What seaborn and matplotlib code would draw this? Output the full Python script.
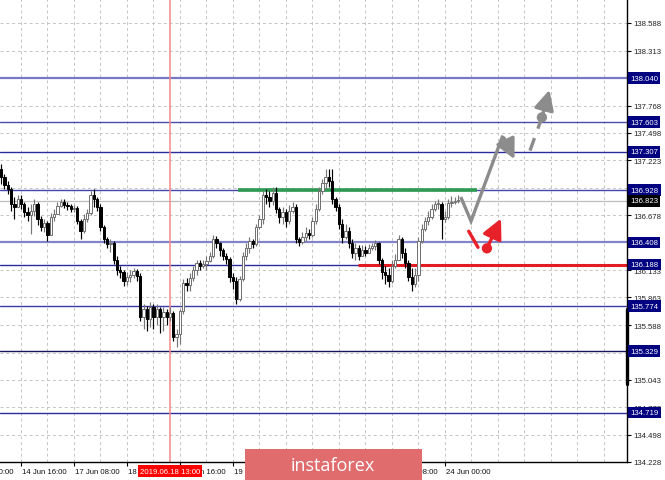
import numpy as np
import pandas as pd
import matplotlib.pyplot as plt
import matplotlib.transforms as mtransforms
from matplotlib.patches import Rectangle
import seaborn as sns

# H1 candles from 14 Jun 10:00 to 24 Jun 04:00
first_open = 137.14
close = [137.06, 136.98, 136.94, 136.79, 136.76, 136.84, 136.79, 136.71, 136.68, 136.72,
         136.79, 136.64, 136.56, 136.60, 136.48, 136.66, 136.69, 136.77, 136.81, 136.78,
         136.77, 136.74, 136.75, 136.62, 136.52, 136.64, 136.70, 136.88, 136.84, 136.76,
         136.56, 136.44, 136.39, 136.40, 136.23, 136.13, 136.11, 136.03, 136.07, 136.09,
         136.12, 136.08, 135.67, 135.75, 135.65, 135.77, 135.67, 135.75, 135.67, 135.72,
         135.67, 135.71, 135.47, 135.50, 135.73, 136.01, 135.99, 136.06, 136.13, 136.20,
         136.17, 136.19, 136.22, 136.27, 136.44, 136.40, 136.33, 136.27, 136.24, 136.07,
         136.03, 135.85, 136.05, 136.27, 136.35, 136.42, 136.39, 136.56, 136.64, 136.88,
         136.86, 136.82, 136.90, 136.74, 136.66, 136.71, 136.62, 136.72, 136.76, 136.44,
         136.41, 136.46, 136.50, 136.48, 136.62, 136.74, 136.92, 137.00, 137.06, 137.02,
         136.84, 136.76, 136.59, 136.46, 136.52, 136.40, 136.30, 136.35, 136.27, 136.33,
         136.30, 136.35, 136.37, 136.40, 136.23, 136.11, 136.09, 136.03, 136.17, 136.23,
         136.44, 136.30, 136.20, 136.07, 136.00, 136.09, 136.42, 136.54, 136.62, 136.66,
         136.74, 136.79, 136.79, 136.64, 136.66, 136.80, 136.81, 136.82, 136.823]
high = [137.19, 137.09, 137.02, 136.96, 136.86, 136.88, 136.88, 136.81, 136.76, 136.79,
        136.84, 136.81, 136.67, 136.64, 136.62, 136.70, 136.74, 136.81, 136.84, 136.84,
        136.81, 136.79, 136.78, 136.77, 136.64, 136.69, 136.74, 136.92, 136.94, 136.86,
        136.79, 136.58, 136.46, 136.44, 136.42, 136.27, 136.17, 136.13, 136.11, 136.13,
        136.15, 136.14, 136.10, 135.80, 135.78, 135.82, 135.80, 135.80, 135.77, 135.77,
        135.75, 135.77, 135.73, 135.55, 135.75, 136.05, 136.06, 136.10, 136.17, 136.23,
        136.23, 136.23, 136.27, 136.31, 136.48, 136.47, 136.41, 136.35, 136.30, 136.26,
        136.10, 136.07, 136.08, 136.31, 136.40, 136.46, 136.44, 136.59, 136.68, 136.92,
        136.94, 136.92, 136.96, 136.96, 136.76, 136.76, 136.74, 136.78, 136.81, 136.79,
        136.46, 136.51, 136.56, 136.54, 136.66, 136.79, 136.96, 137.04, 137.14, 137.14,
        137.14, 136.86, 136.79, 136.64, 136.59, 136.56, 136.44, 136.40, 136.38, 136.38,
        136.37, 136.39, 136.40, 136.43, 136.41, 136.25, 136.17, 136.15, 136.23, 136.29,
        136.48, 136.46, 136.35, 136.23, 136.15, 136.15, 136.46, 136.59, 136.66, 136.72,
        136.79, 136.82, 136.84, 136.81, 136.72, 136.84, 136.87, 136.86, 136.88]
low = [136.99, 136.94, 136.89, 136.72, 136.64, 136.76, 136.74, 136.66, 136.62, 136.49,
       136.67, 136.58, 136.52, 136.51, 136.42, 136.48, 136.62, 136.69, 136.76, 136.75,
       136.73, 136.71, 136.71, 136.59, 136.44, 136.50, 136.61, 136.68, 136.76, 136.72,
       136.52, 136.40, 136.35, 136.31, 136.19, 136.09, 136.06, 135.98, 135.99, 136.02,
       136.06, 136.03, 135.63, 135.55, 135.53, 135.57, 135.55, 135.59, 135.51, 135.53,
       135.59, 135.63, 135.43, 135.37, 135.40, 135.70, 135.93, 135.93, 136.03, 136.09,
       136.13, 136.15, 136.13, 136.21, 136.25, 136.35, 136.27, 136.23, 136.19, 136.02,
       135.95, 135.80, 135.83, 136.03, 136.23, 136.30, 136.35, 136.37, 136.54, 136.59,
       136.79, 136.76, 136.78, 136.70, 136.60, 136.59, 136.56, 136.59, 136.70, 136.40,
       136.37, 136.39, 136.42, 136.44, 136.46, 136.59, 136.72, 136.89, 136.94, 136.96,
       136.79, 136.72, 136.54, 136.40, 136.44, 136.35, 136.25, 136.23, 136.23, 136.27,
       136.27, 136.30, 136.33, 136.33, 136.19, 136.05, 136.00, 135.97, 136.01, 136.15,
       136.23, 136.25, 136.15, 136.03, 135.93, 135.97, 136.03, 136.40, 136.52, 136.58,
       136.64, 136.72, 136.74, 136.44, 136.61, 136.64, 136.76, 136.79, 136.80]

price_ticks = [138.588, 138.313, 137.768, 137.498, 137.223, 136.678,
               136.133, 135.863, 135.588, 135.043, 134.773, 134.498, 134.228]
grid_prices = [138.588, 138.313, 138.040, 137.768, 137.498, 137.223, 136.948, 136.678, 136.408,
               136.133, 135.863, 135.588, 135.313, 135.043, 134.773, 134.498, 134.228]
levels = [138.040, 137.603, 137.307, 136.928, 136.408, 136.188, 135.774, 135.329, 134.719]
level_colors = ['#7777C4', '#4B4BB0', '#2B2B9C', '#4545AE', '#8383CA', '#2B2B9C',
                '#3A3AA8', '#16165E', '#2B2B9C']
last_price = 136.823

time_labels = ['14 Jun 00:00', '14 Jun 16:00', '17 Jun 08:00', '18 Jun 00:00', '18 Jun 16:00',
               '19 Jun 08:00', '20 Jun 00:00', '20 Jun 16:00', '21 Jun 08:00', '24 Jun 00:00']
time_label_bars = [-10, 6, 22, 38, 54, 70, 86, 102, 118, 134]
cursor_bar = 51
cursor_label = '2019.06.18 13:00'

resistance, resistance_span = 136.928, (71.5, 143.7)
support, support_span = 136.188, (107.7, 189.0)

# hand-drawn forecast arrows (bar index, price)
gray_path_x = [138.8, 141.9, 151.5, 155.4]
gray_path_y = [136.86, 136.62, 137.47, 137.21]
gray_dash_x = [159.7, 163.3]
gray_dash_y = [137.32, 137.65]
gray_arrow_x = [163.3, 165.8]
gray_arrow_y = [137.65, 137.95]
red_stroke_x = [141.2, 144.0]
red_stroke_y = [136.52, 136.36]
red_arrow_x = [146.7, 151.3]
red_arrow_y = [136.35, 136.67]

sns.set_theme(style='white')
plt.rcParams['font.family'] = ['Liberation Sans', 'DejaVu Sans']

fig = plt.figure(figsize=(6.65, 4.81), dpi=100)
fig.patch.set_facecolor('white')
ax = fig.add_axes([0, 18 / 481, 627 / 665, 463 / 481])
ax.set_facecolor('white')

for s in ['top', 'left']:
    ax.spines[s].set_visible(False)
for s in ['right', 'bottom']:
    ax.spines[s].set_color('black')
    ax.spines[s].set_linewidth(1.0)

# grid
grid_kw = dict(color='#C4C4C4', lw=0.7, ls=(0, (3, 3)), zorder=0)
for p in grid_prices:
    ax.axhline(p, **grid_kw)
for gx in range(6, 190, 8):
    ax.axvline(gx, **grid_kw)

# levels
for lv, c in zip(levels, level_colors):
    lw = 1.6 if c in ('#7777C4', '#8383CA') else 1.0
    ax.axhline(lv, color=c, lw=lw, zorder=1)
ax.axhline(last_price, color='#BDBDBD', lw=0.9, zorder=1)
ax.hlines(resistance, *resistance_span, color='#2E9B52', lw=2.6, zorder=2)
ax.hlines(support, *support_span, color='#E31B23', lw=2.2, zorder=2)

# cursor line
ax.axvline(cursor_bar, color='#F38A8A', lw=1.1, zorder=1)

# candles
opens = [first_open] + close[:-1]
df = pd.DataFrame({'open': opens, 'high': high, 'low': low, 'close': close})
df['x'] = np.arange(len(df))
up = df['close'] >= df['open']
for is_up, sub in [(True, df[up]), (False, df[~up])]:
    wick_c = '#777777' if is_up else 'black'
    ax.vlines(sub['x'], sub['low'], sub['high'], color=wick_c, lw=0.85, zorder=3)
    body = (sub['close'] - sub['open']).abs().clip(lower=0.006)
    bottom = sub[['open', 'close']].min(axis=1)
    ax.bar(sub['x'], body, bottom=bottom, width=0.7,
           color='white' if is_up else 'black',
           edgecolor='#6E6E6E' if is_up else 'black', linewidth=0.7, zorder=4)

# forecast drawings
gray = '#8C8C8C'
head = '-|>,head_length=1.0,head_width=0.5'
ax.plot(gray_path_x[:-1], gray_path_y[:-1], color=gray, lw=2.4, solid_capstyle='butt',
        solid_joinstyle='miter', zorder=6)
ax.annotate('', xy=(gray_path_x[-1], gray_path_y[-1]), xytext=(gray_path_x[-2], gray_path_y[-2]),
            arrowprops=dict(arrowstyle=head, color=gray, lw=2.4), zorder=6)
ax.plot(gray_dash_x, gray_dash_y, color=gray, lw=2.4, ls=(0, (4, 3)), zorder=6)
ax.annotate('', xy=(gray_arrow_x[1], gray_arrow_y[1]), xytext=(gray_arrow_x[0], gray_arrow_y[0]),
            arrowprops=dict(arrowstyle=head, color=gray, lw=2.4), zorder=6)
red = '#E8202A'
ax.plot(red_stroke_x, red_stroke_y, color=red, lw=2.4, zorder=6)
ax.annotate('', xy=(red_arrow_x[1], red_arrow_y[1]), xytext=(red_arrow_x[0], red_arrow_y[0]),
            arrowprops=dict(arrowstyle=head, color=red, lw=2.4), zorder=6)
dots = pd.DataFrame({'x': [gray_arrow_x[0], red_arrow_x[0]], 'y': [gray_arrow_y[0], red_arrow_y[0]],
                     'kind': ['gray', 'red']})
sns.scatterplot(data=dots, x='x', y='y', hue='kind', palette={'gray': gray, 'red': red},
                s=55, edgecolor='none', legend=False, zorder=7, ax=ax)
ax.set_xlabel('')
ax.set_ylabel('')

# price axis
ax.yaxis.tick_right()
ax.set_yticks(price_ticks)
ax.set_yticklabels([f'{p:.3f}' for p in price_ticks])
ax.tick_params(axis='y', direction='out', length=3, width=0.8, color='black',
               labelsize=5.6, labelcolor='#222222', pad=1.5, right=True)
ax.set_xticks(time_label_bars)
ax.set_xticklabels([])
ax.tick_params(axis='x', direction='out', length=3, width=0.8, color='black', bottom=True)

# limits fixed after ticks and drawing so nothing widens them
ax.set_xlim(-0.34, 189.0)
ax.set_ylim(134.228, 138.826)

ax_blend = mtransforms.blended_transform_factory(ax.transData, ax.transAxes)
for b, lab in zip(time_label_bars, time_labels):
    ax.text(b + 0.3, -0.0195, lab, transform=ax_blend, fontsize=5.6, color='#111111',
            ha='left', va='center', clip_on=False)

# price boxes on the axis
ay_blend = mtransforms.blended_transform_factory(ax.transAxes, ax.transData)
for lv in levels:
    ax.text(1.005, lv, f'{lv:.3f}', transform=ay_blend, fontsize=5.6, color='white',
            ha='left', va='center', clip_on=False, zorder=10,
            bbox=dict(boxstyle='square,pad=0.3', fc='#000080', ec='none'))
ax.text(1.005, last_price, f'{last_price:.3f}', transform=ay_blend, fontsize=5.6, color='white',
        ha='left', va='center', clip_on=False, zorder=10,
        bbox=dict(boxstyle='square,pad=0.3', fc='black', ec='none'))
ax.plot([1, 1], [135.0, 135.75], transform=ay_blend, color='black', lw=2.4, clip_on=False,
        zorder=9)

# cursor time box
ax.text(cursor_bar, -0.0195, cursor_label, transform=ax_blend, fontsize=5.6, color='white',
        ha='center', va='center', clip_on=False, zorder=10,
        bbox=dict(boxstyle='square,pad=0.3', fc='#FF0000', ec='none'))

# watermark banner
fig.patches.append(Rectangle((245 / 665, 0), 177 / 665, 31 / 481, transform=fig.transFigure,
                             facecolor='#E06C6E', edgecolor='none', zorder=20))
fig.text(333 / 665, 15 / 481, 'instaforex', color='white', fontsize=13,
         family=['Open Sans', 'DejaVu Sans'], ha='center', va='center', zorder=21)

fig.savefig('out.png', dpi=100, facecolor='white')
